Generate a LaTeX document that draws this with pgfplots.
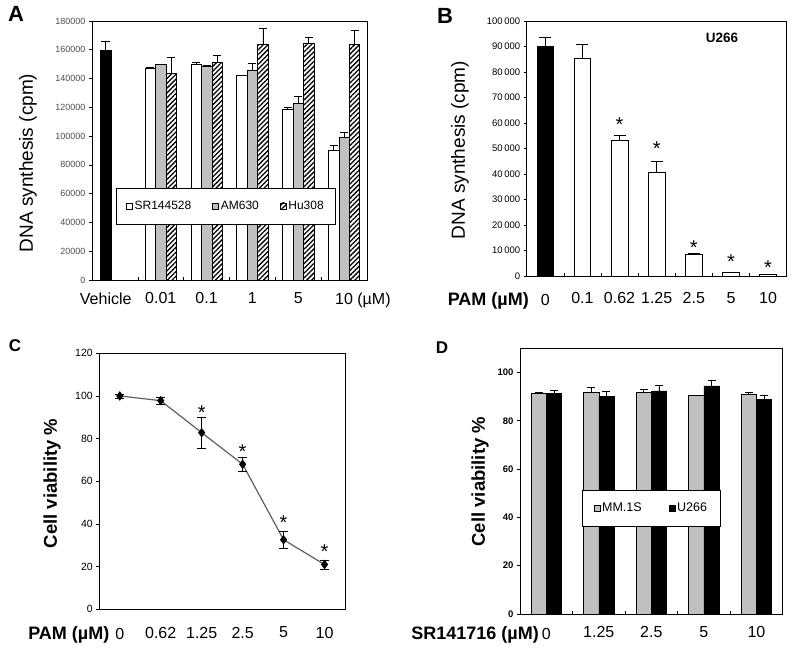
\documentclass[border=0pt]{standalone}
\usepackage{fontspec}
\setmainfont{Liberation Sans}
\usepackage{pgfplots}
\pgfplotsset{compat=1.18}
\usetikzlibrary{patterns.meta}

\definecolor{barGray}{RGB}{192,192,192}
\definecolor{lineGray}{RGB}{95,95,95}

\pgfplotsset{
  panel/.style={
    scale only axis,
    axis line style={black, line width=0.7pt},
    tick style={black, line width=0.6pt},
    tick align=outside,
    major tick length=3pt,
    ytick pos=left,
    xtick pos=bottom,
    /pgf/number format/assume math mode=true,
    scaled y ticks=false,
    ymin=0,
    clip=false,
    xticklabel style={font=\fontsize{16}{18}\selectfont},
    error bars/error bar style={black, line width=0.7pt},
    error bars/error mark options={rotate=90, black, line width=0.7pt},
  },
  inticks/.style={major x tick style={yshift=3pt}},
  labelticks/.style={extra x tick style={major tick length=0pt}},
  sqlegend/.style={
    legend image code/.code={\draw[##1, line width=0.5pt] (0pt,-3pt) rectangle (6pt,3pt);},
  },
  hatch/.style={fill=white, postaction={pattern={Lines[angle=45, distance=3.4pt, line width=1.3pt]}}},
  star/.style={only marks, mark=none, point meta=none,
    nodes near coords={*}, nodes near coords style={anchor=center, yshift=-4.5pt, font=\fontsize{20}{20}\selectfont}},
}

\begin{document}
\begin{tikzpicture}
\useasboundingbox (0pt,0pt) rectangle (800pt,659pt);

% ---------- A ----------
\begin{axis}[panel, inticks, labelticks, sqlegend,
  at={(92pt,379pt)}, anchor=south west, width=275pt, height=259pt,
  xmin=0, xmax=6, ymax=180000,
  ytick={0,20000,...,180000},
  yticklabel style={font=\fontsize{9}{10}\selectfont, text=black!70,
    /pgf/number format/.cd, fixed, 1000 sep={}},
  xtick={1,...,5}, xticklabels={},
  extra x ticks={0.3,1.5,2.5,3.5,4.5,5.5},
  extra x tick labels={Vehicle,0.01,0.1,1,5,10\rlap{ (µM)}},
  xticklabel style={yshift=-9pt},
  ylabel={DNA synthesis (cpm)},
  ylabel style={font=\fontsize{19}{20}\selectfont, at={(axis description cs:-0.233,0.452)}, anchor=center},
  bar width=0.228,
  legend columns=3,
  legend style={at={(0.487,0.286)}, anchor=center, draw=black, line width=0.6pt,
    font=\fontsize{12}{13}\selectfont, inner xsep=10pt, inner ysep=11pt,
    nodes={inner xsep=2pt},
    /tikz/every even column/.append style={column sep=19pt}},
]
\addplot[ybar, bar shift=0pt, bar width=0.25, fill=black, draw=black, forget plot,
  error bars/.cd, y dir=plus, y explicit, error mark options={rotate=90, mark size=4.5pt, black}]
  coordinates {(0.3,160000) +- (0,5700)};
\addplot[ybar, bar shift=0pt, fill=white, draw=black, line width=0.6pt,
  error bars/.cd, y dir=plus, y explicit, error mark options={rotate=90, mark size=4pt, black}]
  coordinates {(1.272,147300) +- (0,700) (2.272,150100) +- (0,1600) (3.272,142000) +- (0,600)
               (4.272,118800) +- (0,1400) (5.272,89900) +- (0,4000)};
\addlegendentry{SR144528}
\addplot[ybar, bar shift=0pt, fill=barGray, draw=black, line width=0.6pt,
  error bars/.cd, y dir=plus, y explicit, error mark options={rotate=90, mark size=4pt, black}]
  coordinates {(1.5,149700) +- (0,500) (2.5,148700) +- (0,700) (3.5,146000) +- (0,5000)
               (4.5,122800) +- (0,4600) (5.5,99400) +- (0,3100)};
\addlegendentry{AM630}
\addplot[ybar, bar shift=0pt, hatch, draw=black, line width=0.6pt,
  error bars/.cd, y dir=plus, y explicit, error mark options={rotate=90, mark size=4pt, black}]
  coordinates {(1.728,143600) +- (0,11400) (2.728,151000) +- (0,5000) (3.728,163800) +- (0,11500)
               (4.728,164500) +- (0,4200) (5.728,163800) +- (0,9900)};
\addlegendentry{Hu308}
\end{axis}
\node[font=\fontsize{22}{24}\selectfont\bfseries] at (16pt,645pt) {A};

% ---------- B ----------
\begin{axis}[panel, inticks, labelticks,
  at={(526.7pt,383pt)}, anchor=south west, width=260pt, height=255pt,
  xmin=-0.5, xmax=6.5, ymax=100000,
  ytick={0,10000,...,100000},
  yticklabel style={font=\fontsize{9.5}{10}\selectfont,
    /pgf/number format/.cd, fixed, 1000 sep={\,}},
  xtick={0.5,1.5,...,5.5}, xticklabels={},
  extra x ticks={0,...,6},
  extra x tick labels={\llap{\fontsize{18}{20}\selectfont\bfseries PAM (µM)\hspace{12pt}}0,0.1,0.62,1.25,2.5,5,10},
  xticklabel style={yshift=-13pt},
  ylabel={DNA synthesis (cpm)},
  ylabel style={font=\fontsize{19}{20}\selectfont, at={(axis description cs:-0.2565,0.494)}, anchor=center},
  bar width=0.45,
]
\addplot[ybar, bar shift=0pt, fill=black, draw=black,
  error bars/.cd, y dir=plus, y explicit, error mark options={rotate=90, mark size=6pt, black}]
  coordinates {(0,90000) +- (0,3800)};
\addplot[ybar, bar shift=0pt, fill=white, draw=black, line width=0.7pt,
  error bars/.cd, y dir=plus, y explicit, error mark options={rotate=90, mark size=6pt, black}]
  coordinates {(1,85400) +- (0,5600) (2,53000) +- (0,2400) (3,40600) +- (0,4600)
               (4,8600) +- (0,300) (5,1500) +- (0,0) (6,500) +- (0,300)};
% significance marks
\addplot[star] coordinates {(2,61200) (3,51800) (4,12800) (5,7300) (6,5000)};
\node[font=\fontsize{13.5}{15}\selectfont\bfseries] at (axis description cs:0.751,0.933) {U266};
\end{axis}
\node[font=\fontsize{22}{24}\selectfont\bfseries] at (445pt,643pt) {B};

% ---------- C ----------
\begin{axis}[panel,
  at={(99.3pt,49.7pt)}, anchor=south west, width=245.7pt, height=256pt,
  xmin=-0.5, xmax=5.5, ymax=120,
  ytick={0,20,...,120},
  yticklabel style={font=\fontsize{10.5}{12}\selectfont},
  xtick={0,...,5},
  xticklabels={\llap{\fontsize{18}{20}\selectfont\bfseries PAM (µM)\hspace{6pt}}0,0.62,1.25,2.5,5,10},
  xticklabel style={yshift=-11pt},
  major x tick style={draw=none},
  ylabel={Cell viability \%},
  ylabel style={font=\fontsize{18.5}{20}\selectfont\bfseries, at={(axis description cs:-0.1925,0.492)}, anchor=center},
]
\addplot[lineGray, line width=1.2pt, mark=diamond*, mark size=3.8pt,
  mark options={black, fill=black, solid},
  error bars/.cd, y dir=both, y explicit, error mark options={rotate=90, mark size=4.5pt, black}]
  coordinates {(0,100) +- (0,1) (1,97.8) +- (0,1.8) (2,82.8) +- (0,7.2)
               (3,68) +- (0,3.2) (4,32.6) +- (0,4) (5,21) +- (0,2.2)};
\addplot[star] coordinates {(2,94.2) (3,75.9) (4,42.9) (5,29.1)};
\end{axis}
\node[font=\fontsize{17}{19}\selectfont\bfseries] at (15pt,313pt) {C};

% ---------- D ----------
\begin{axis}[panel, inticks, labelticks, sqlegend,
  at={(520pt,45pt)}, anchor=south west, width=262.7pt, height=265.7pt,
  xmin=-0.5, xmax=4.5, ymax=110,
  ytick={0,20,...,100},
  yticklabel style={font=\fontsize{9.5}{10}\selectfont\bfseries},
  xtick={0.5,1.5,...,3.5}, xticklabels={},
  extra x ticks={0,...,4},
  extra x tick labels={\llap{\fontsize{18}{20}\selectfont\bfseries SR141716 (µM)\hspace{3pt}}0,1.25,2.5,5,10},
  xticklabel style={yshift=-9pt},
  ylabel={Cell viability \%},
  ylabel style={font=\fontsize{18.5}{20}\selectfont\bfseries, at={(axis description cs:-0.152,0.498)}, anchor=center},
  bar width=0.29,
  legend columns=2,
  legend style={at={(0.5,0.398)}, anchor=center, draw=black, line width=0.6pt,
    font=\fontsize{12.5}{13}\selectfont, inner xsep=12pt, inner ysep=11pt,
    nodes={inner xsep=1.5pt},
    /tikz/every even column/.append style={column sep=26pt}},
]
\addplot[ybar, bar shift=0pt, fill=barGray, draw=black, line width=0.6pt,
  error bars/.cd, y dir=plus, y explicit, error mark options={rotate=90, mark size=4pt, black}]
  coordinates {(-0.145,91.4) +- (0,0.4) (0.855,91.7) +- (0,2.2) (1.855,91.7) +- (0,1.5)
               (2.855,90.4) +- (0,0) (3.855,91.0) +- (0,0.9)};
\addlegendentry{MM.1S}
\addplot[ybar, bar shift=0pt, fill=black, draw=black, line width=0.6pt,
  error bars/.cd, y dir=plus, y explicit, error mark options={rotate=90, mark size=4pt, black}]
  coordinates {(0.145,91.4) +- (0,1.4) (1.145,90.0) +- (0,2.4) (2.145,92.4) +- (0,2.5)
               (3.145,94.4) +- (0,2.4) (4.145,88.9) +- (0,1.7)};
\addlegendentry{U266}
\end{axis}
\node[font=\fontsize{17}{19}\selectfont\bfseries] at (442pt,311pt) {D};
\end{tikzpicture}
\end{document}
